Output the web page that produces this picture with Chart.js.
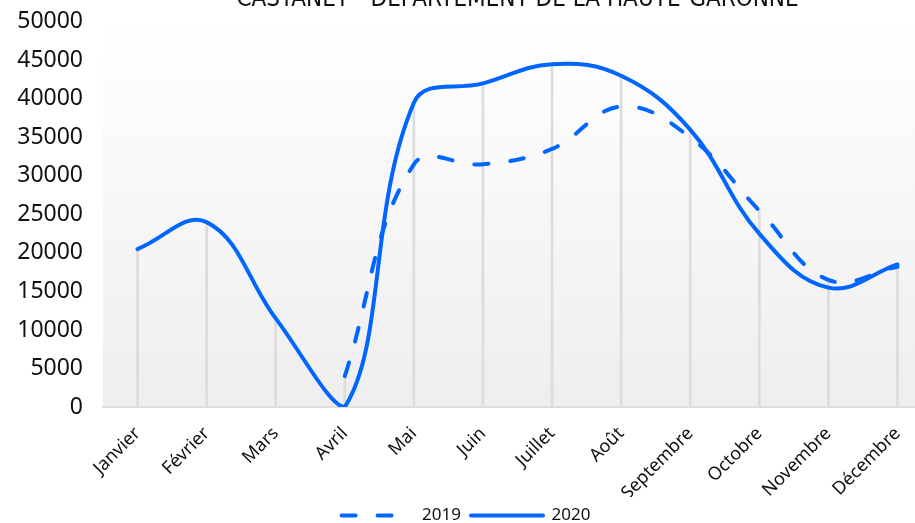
<!DOCTYPE html>
<html lang="fr">
<head>
<meta charset="utf-8">
<title>Castanet - Département de la Haute-Garonne</title>
<script src="https://cdn.jsdelivr.net/npm/chart.js@4/dist/chart.umd.min.js"></script>
<style>
    html, body { margin: 0; padding: 0; background: #fff; overflow: hidden; }
    #wrap { position: absolute; left: 0; top: -15px; width: 932px; height: 549px; }
</style>
</head>
<body>
<div id="wrap"><canvas id="ventesChart"></canvas></div>
<script>
    // Valeurs
    const mois = ["Janvier", "Février", "Mars", "Avril", "Mai", "Juin", "Juillet", "Août",
        "Septembre", "Octobre", "Novembre", "Décembre"];
    const valeurs2019 = [null, null, null, 4000, 31500, 31500, 33500, 39000, 35000, 25500, 16500, 18200];
    const valeurs2020 = [20500, 24000, 11500, 0, 39500, 42000, 44500, 43000, 36000, 22500, 15500, 18500];
    const titre = "CASTANET - DÉPARTEMENT DE LA HAUTE-GARONNE";

    const bleu = "#0066ff";
    const tirets = [14, 22];

    // traits verticaux gris sous chaque point
    const traits = valeurs2020.map((v, i) => Math.max(v, valeurs2019[i] ?? 0));

    const fondGradient = {
        id: "fondGradient",
        beforeDraw(chart) {
            const { ctx, chartArea: a } = chart;
            const g = ctx.createLinearGradient(0, a.top, 0, a.bottom);
            g.addColorStop(0, "#ffffff");
            g.addColorStop(1, "#eeeeee");
            ctx.save();
            ctx.fillStyle = g;
            ctx.fillRect(a.left, a.top, a.right - a.left, a.bottom - a.top);
            ctx.restore();
        }
    };

    new Chart(document.getElementById("ventesChart"), {
        data: {
            labels: mois,
            datasets: [
                {
                    type: "line",
                    label: "2019",
                    data: valeurs2019,
                    borderColor: bleu,
                    backgroundColor: bleu,
                    borderWidth: 4,
                    borderDash: tirets,
                    borderCapStyle: "round",
                    tension: 0.4,
                    pointRadius: 0,
                    order: 2
                },
                {
                    type: "line",
                    label: "2020",
                    data: valeurs2020,
                    borderColor: bleu,
                    backgroundColor: bleu,
                    borderWidth: 4,
                    borderCapStyle: "round",
                    tension: 0.4,
                    pointRadius: 0,
                    order: 1
                },
                {
                    type: "bar",
                    label: "traits",
                    data: traits,
                    backgroundColor: "#dcdcdc",
                    barThickness: 2,
                    order: 3
                }
            ]
        },
        options: {
            responsive: true,
            maintainAspectRatio: false,
            animation: false,
            layout: { autoPadding: false, padding: 0 },
            plugins: {
                title: {
                    display: true,
                    text: titre,
                    fullSize: false,
                    color: "#111",
                    font: { family: "'Liberation Sans Narrow', 'DejaVu Sans Condensed', sans-serif", size: 24, weight: "normal" },
                    padding: { top: 0, bottom: 8 }
                },
                legend: {
                    position: "bottom",
                    labels: {
                        usePointStyle: true,
                        pointStyle: "line",
                        pointStyleWidth: 72,
                        color: "#111",
                        font: { family: "'Noto Sans', sans-serif", size: 17 },
                        padding: 10,
                        sort: (a, b) => a.datasetIndex - b.datasetIndex,
                        generateLabels: (chart) => Chart.defaults.plugins.legend.labels.generateLabels(chart)
                            .filter((item) => item.text !== "traits")
                            .map((item) => ({
                                ...item,
                                lineDash: chart.data.datasets[item.datasetIndex].borderDash || [],
                                lineCap: "round",
                                lineWidth: 4,
                                strokeStyle: bleu
                            }))
                    }
                },
                tooltip: { enabled: false }
            },
            scales: {
                x: {
                    offset: true,
                    grid: { display: false },
                    border: { display: true, color: "#dddddd", width: 2 },
                    afterFit: (scale) => { scale.height = 90; },
                    ticks: {
                        color: "#111",
                        maxRotation: 45,
                        minRotation: 45,
                        font: { family: "'Noto Sans', sans-serif", size: 18 },
                        padding: 8
                    }
                },
                y: {
                    min: 0,
                    max: 50000,
                    grid: { display: false },
                    border: { display: false },
                    afterFit: (scale) => { scale.width = 103; },
                    ticks: {
                        stepSize: 5000,
                        color: "#111",
                        padding: 12,
                        font: { family: "'Noto Sans', sans-serif", size: 23 },
                        callback: (v) => v
                    }
                }
            }
        },
        plugins: [fondGradient]
    });
</script>
</body>
</html>
